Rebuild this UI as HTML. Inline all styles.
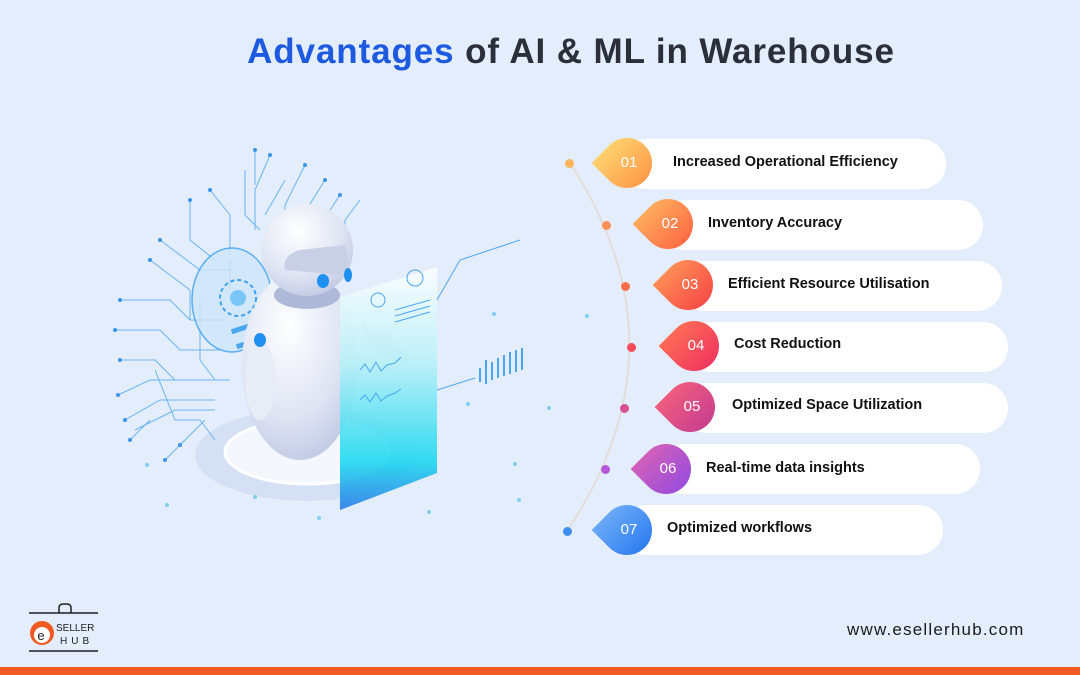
<!DOCTYPE html>
<html><head><meta charset="utf-8"><style>
body{margin:0;width:1080px;height:675px;overflow:hidden;background:#e4edfb;font-family:"Liberation Sans",sans-serif;position:relative}
.title{position:absolute;top:32px;left:0;width:1142px;text-align:center;font-size:35px;font-weight:bold;color:#2b2f3a;letter-spacing:0.9px}
.title span{color:#1d5ae0}
.pill{position:absolute;height:50px;background:#fff;border-radius:25px}
.drop{position:absolute;width:50px;height:50px;border-radius:0 50% 50% 50%;transform:rotate(-45deg)}
.num{position:absolute;width:50px;height:50px;line-height:50px;text-align:center;color:#fff;font-size:15px}
.lab{position:absolute;font-size:14.5px;font-weight:bold;color:#111;line-height:50px}
.dot{position:absolute;width:9px;height:9px;border-radius:50%}
.bar{position:absolute;left:0;top:667px;width:1080px;height:8px;background:#f15a22}
.web{position:absolute;left:847px;top:620px;font-size:17px;color:#1b1b1b;letter-spacing:1.2px}
</style></head><body>
<div class="title"><span>Advantages</span> of AI &amp; ML in Warehouse</div>

<svg style="position:absolute;left:0;top:0" width="1080" height="675">
<path d="M570 163 Q 690 347 567 531" fill="none" stroke="#e2ddd8" stroke-width="2"/>
<ellipse cx="307" cy="455" rx="112" ry="46" fill="#d6e0f5"/>
<ellipse cx="307" cy="452" rx="82" ry="32" fill="#f4f7fd" stroke="#fff" stroke-width="3"/>
<g stroke="#4aa6f0" stroke-width="1" fill="none" opacity="0.8">
<path d="M120 300 H170 L190 320 H225"/><path d="M115 330 H160 L180 350 H220"/><path d="M120 360 H155 L175 380 H230"/>
<path d="M118 395 L150 380 H200"/><path d="M125 420 L160 400 H215"/><path d="M135 430 L175 410 L215 410"/>
<path d="M150 260 L190 290 V320"/><path d="M160 240 L200 270 H230"/><path d="M190 200 V240 L215 260"/>
<path d="M210 190 L230 215 V255"/><path d="M245 170 V215 L260 230"/><path d="M255 150 V185"/>
<path d="M270 155 L255 190 V230"/><path d="M285 180 L265 215"/><path d="M305 165 L285 205 V230"/>
<path d="M325 180 L300 220"/><path d="M340 195 L320 225"/><path d="M360 200 L345 220 V230"/>
<path d="M155 370 L175 420 H200 L215 440"/><path d="M180 445 L205 420"/><path d="M165 460 L185 440"/>
<path d="M130 440 L150 420"/><path d="M200 300 V360 L215 380"/><path d="M230 260 V290"/>
</g>
<g fill="#3b94ea"><circle cx="120" cy="300" r="2"/><circle cx="115" cy="330" r="2"/><circle cx="120" cy="360" r="2"/><circle cx="118" cy="395" r="2"/><circle cx="125" cy="420" r="2"/><circle cx="150" cy="260" r="2"/><circle cx="160" cy="240" r="2"/><circle cx="190" cy="200" r="2"/><circle cx="210" cy="190" r="2"/><circle cx="255" cy="150" r="2"/><circle cx="270" cy="155" r="2"/><circle cx="305" cy="165" r="2"/><circle cx="325" cy="180" r="2"/><circle cx="340" cy="195" r="2"/><circle cx="165" cy="460" r="2"/><circle cx="130" cy="440" r="2"/><circle cx="180" cy="445" r="2"/></g>
<ellipse cx="232" cy="300" rx="40" ry="52" fill="#cfe6fb" stroke="#3aa0ef" stroke-width="1.5" opacity="0.8"/>
<circle cx="238" cy="298" r="18" fill="none" stroke="#3aa0ef" stroke-width="2" stroke-dasharray="4 3"/>
<circle cx="238" cy="298" r="8" fill="#7cc6f7"/>
<rect x="230" y="320" width="60" height="5" fill="#4aa6f0" transform="rotate(-18 260 322)"/>
<rect x="235" y="335" width="60" height="5" fill="#4aa6f0" transform="rotate(-18 265 337)"/>
<defs>
<radialGradient id="rb" cx="0.4" cy="0.3" r="0.8"><stop offset="0" stop-color="#ffffff"/><stop offset="0.6" stop-color="#dfe4f3"/><stop offset="1" stop-color="#b9c3e0"/></radialGradient>
<linearGradient id="pg" x1="0" y1="0" x2="0" y2="1"><stop offset="0" stop-color="#ffffff" stop-opacity="0.9"/><stop offset="0.4" stop-color="#b6f0f7"/><stop offset="0.8" stop-color="#1ed8f0"/><stop offset="1" stop-color="#2a7be6"/></linearGradient>
</defs>
<ellipse cx="300" cy="365" rx="58" ry="95" fill="url(#rb)"/>
<ellipse cx="260" cy="380" rx="15" ry="40" fill="#e8ecf7"/>
<ellipse cx="307" cy="295" rx="33" ry="14" fill="#aeb8d8"/>
<circle cx="307" cy="250" r="46" fill="url(#rb)"/>
<path d="M285 270 Q282 255 300 250 L345 245 Q352 260 340 275 Z" fill="#c9d0e6"/>
<ellipse cx="323" cy="281" rx="6" ry="7" fill="#1f8ff0"/><ellipse cx="348" cy="275" rx="4" ry="7" fill="#1f8ff0"/>
<ellipse cx="260" cy="340" rx="6" ry="7" fill="#1f8ff0"/>
<path d="M360 320 Q405 340 410 362 Q395 365 370 345 Z" fill="#d3d9ec"/>
<polygon points="340,297 437,267 437,473 340,510" fill="url(#pg)" opacity="0.9"/>
<g stroke="#4aa6f0" stroke-width="1" fill="none">
<path d="M360 370 l5 -6 l5 8 l6 -10 l5 9 l6 -6 l8 -2 l6 -6"/><path d="M360 400 l5 -5 l5 7 l6 -9 l5 8 l6 -5 l8 -3 l6 -4"/>
<circle cx="378" cy="300" r="7"/><circle cx="415" cy="278" r="8"/>
<path d="M395 310 L430 300 M395 316 L430 306 M395 322 L430 312"/>
<path d="M437 300 L460 260 L520 240"/><path d="M437 390 L475 378"/>
</g>
<g stroke="#4aa6f0" stroke-width="2"><path d="M480 382 V368 M486 384 V360 M492 380 V362 M498 378 V358 M504 376 V355 M510 374 V352 M516 372 V350 M522 370 V348"/></g>
<g fill="#7fd0f0"><circle cx="147" cy="465" r="2"/><circle cx="167" cy="505" r="2"/><circle cx="255" cy="497" r="2"/><circle cx="319" cy="518" r="2"/><circle cx="429" cy="512" r="2"/><circle cx="515" cy="464" r="2"/><circle cx="519" cy="500" r="2"/><circle cx="549" cy="408" r="2"/><circle cx="468" cy="404" r="2"/><circle cx="494" cy="314" r="2"/><circle cx="587" cy="316" r="2"/></g>
</svg>

<div class="dot" style="left:565px;top:159px;background:#fdb55a"></div>
<div class="dot" style="left:602px;top:221px;background:#fc9155"></div>
<div class="dot" style="left:621px;top:282px;background:#fa6e4a"></div>
<div class="dot" style="left:627px;top:343px;background:#f54c5c"></div>
<div class="dot" style="left:620px;top:404px;background:#d85092"></div>
<div class="dot" style="left:601px;top:465px;background:#b457d8"></div>
<div class="dot" style="left:563px;top:527px;background:#3f8ff3"></div>

<div class="pill" style="left:620px;top:139px;width:326px"></div>
<div class="pill" style="left:660px;top:200px;width:323px"></div>
<div class="pill" style="left:680px;top:261px;width:322px"></div>
<div class="pill" style="left:686px;top:322px;width:322px"></div>
<div class="pill" style="left:682px;top:383px;width:326px"></div>
<div class="pill" style="left:658px;top:444px;width:322px"></div>
<div class="pill" style="left:620px;top:505px;width:323px"></div>

<div class="drop" style="left:602px;top:138px;background:linear-gradient(0deg,#fe9b4b,#fed16c)"></div>
<div class="drop" style="left:643px;top:199px;background:linear-gradient(0deg,#fe6b45,#feab5d)"></div>
<div class="drop" style="left:663px;top:260px;background:linear-gradient(0deg,#f74d47,#fe8b55)"></div>
<div class="drop" style="left:669px;top:321px;background:linear-gradient(0deg,#f0375f,#fd6a55)"></div>
<div class="drop" style="left:665px;top:382px;background:linear-gradient(0deg,#c9408f,#ef5c7e)"></div>
<div class="drop" style="left:641px;top:444px;background:linear-gradient(0deg,#9b4ddb,#d05fbb)"></div>
<div class="drop" style="left:602px;top:505px;background:linear-gradient(0deg,#2f7ef0,#6aa9f7)"></div>

<div class="num" style="left:604px;top:138px">01</div>
<div class="num" style="left:645px;top:199px">02</div>
<div class="num" style="left:665px;top:260px">03</div>
<div class="num" style="left:671px;top:321px">04</div>
<div class="num" style="left:667px;top:382px">05</div>
<div class="num" style="left:643px;top:444px">06</div>
<div class="num" style="left:604px;top:505px">07</div>

<div class="lab" style="left:673px;top:137px">Increased Operational Efficiency</div>
<div class="lab" style="left:708px;top:198px">Inventory Accuracy</div>
<div class="lab" style="left:728px;top:259px">Efficient Resource Utilisation</div>
<div class="lab" style="left:734px;top:319px">Cost Reduction</div>
<div class="lab" style="left:732px;top:380px">Optimized Space Utilization</div>
<div class="lab" style="left:706px;top:443px">Real-time data insights</div>
<div class="lab" style="left:667px;top:503px">Optimized workflows</div>

<svg style="position:absolute;left:25px;top:600px" width="80" height="60">
<line x1="4" y1="13" x2="73" y2="13" stroke="#222" stroke-width="1.5"/>
<path d="M34 13 V8 Q34 4 38 4 H42 Q46 4 46 8 V13" fill="none" stroke="#222" stroke-width="1.5"/>
<line x1="4" y1="51" x2="73" y2="51" stroke="#222" stroke-width="1.5"/>
<circle cx="17" cy="33" r="12" fill="#f05a22"/><circle cx="17" cy="35" r="8" fill="#fff"/>
<text x="16" y="40" font-size="13" font-family="Liberation Sans" fill="#222" text-anchor="middle">e</text>
<text x="31" y="31" font-size="10" font-family="Liberation Sans" fill="#222">SELLER</text>
<text x="35" y="44" font-size="10" font-family="Liberation Sans" fill="#222" letter-spacing="4">HUB</text>
</svg>
<div class="web">www.esellerhub.com</div>
<div class="bar"></div>
</body></html>
